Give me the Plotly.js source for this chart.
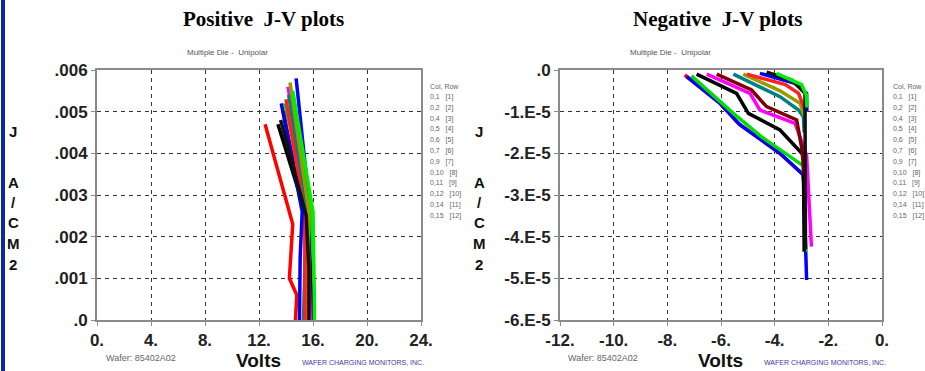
<!DOCTYPE html>
<html>
<head>
<meta charset="utf-8">
<script src="https://cdn.plot.ly/plotly-3.0.1.min.js"></script>
<style>html,body{margin:0;padding:0;background:#fff;}#c{width:925px;height:371px;}</style>
</head>
<body>
<div id="c"></div>
<script>
// ---- data ----
const seriesColors = ['#ff0000','#0000ff','#00dd00','#000000','#ff00ff','#008080','#800000','#999900','#ff2020','#0000ee','#111111','#00ee00'];
const legendLabels = ['0,1   [1]','0,2   [2]','0,4   [3]','0,5   [4]','0,6   [5]','0,7   [6]','0,9   [7]','0,10   [8]','0,11   [9]','0,12   [10]','0,14   [11]','0,15   [12]'];

// Positive J-V: volts and current density (A/cm2)
const posV = [
  [14.7, 14.8, 14.25, 14.5, 12.45],
  [16.0, 15.9, 15.75, 14.75],
  [15.5, 16.0, 15.9, 13.9],
  [15.85, 15.8, 15.6, 13.4],
  [15.8, 15.7, 15.6, 14.15],
  [15.3, 15.4, 15.5, 14.2],
  [15.6, 15.5, 15.4, 13.8],
  [15.6, 15.6, 15.7, 14.3],
  [15.4, 15.4, 15.4, 14.0],
  [15.0, 15.05, 15.2, 13.65],
  [15.7, 15.7, 15.5, 13.6],
  [16.1, 16.1, 16.0, 14.5]
];
const posJ = [
  [0.0, 0.0006, 0.001, 0.0023, 0.0047],
  [0.0, 0.0012, 0.0027, 0.0058],
  [0.0, 0.0013, 0.0025, 0.0052],
  [0.0, 0.0012, 0.0024, 0.0047],
  [0.0, 0.0012, 0.0027, 0.0056],
  [0.0, 0.0012, 0.0026, 0.0054],
  [0.0, 0.0012, 0.0024, 0.0050],
  [0.0, 0.0012, 0.0026, 0.0057],
  [0.0, 0.0012, 0.0025, 0.0053],
  [0.0, 0.0015, 0.0026, 0.0052],
  [0.0, 0.0012, 0.0025, 0.0048],
  [0.0, 0.0005, 0.0026, 0.0055]
];

// Negative J-V: volts and current density (A/cm2)
const negV = [
  [-7.35, -6.1, -5.35, -3.85, -2.95, -2.85],
  [-7.28, -6.04, -5.29, -3.8, -2.93, -2.81],
  [-7.1, -5.54, -4.5, -2.93, -2.85],
  [-6.91, -5.42, -4.98, -3.8, -2.93, -2.9],
  [-6.53, -4.92, -4.55, -3.24, -2.81, -2.63],
  [-5.54, -3.8, -3.11, -2.93, -2.9],
  [-6.16, -4.86, -4.3, -3.18, -2.99, -2.9],
  [-5.17, -3.8, -3.05, -2.9],
  [-5.04, -3.6, -3.11, -2.87],
  [-4.55, -3.24, -2.81, -2.8],
  [-4.3, -3.36, -2.87, -2.85],
  [-3.93, -3.0, -2.82, -2.8]
];
const negJ = [
  [-0.12e-5, -0.75e-5, -1.28e-5, -1.98e-5, -2.5e-5, -3.0e-5],
  [-0.16e-5, -0.8e-5, -1.32e-5, -2.0e-5, -2.52e-5, -5.04e-5],
  [-0.14e-5, -1.04e-5, -1.6e-5, -2.3e-5, -4.36e-5],
  [-0.1e-5, -0.56e-5, -1.04e-5, -1.44e-5, -2.04e-5, -4.36e-5],
  [-0.1e-5, -0.56e-5, -0.96e-5, -1.28e-5, -2.04e-5, -4.24e-5],
  [-0.1e-5, -0.64e-5, -0.96e-5, -1.12e-5, -1.5e-5],
  [-0.1e-5, -0.48e-5, -0.88e-5, -1.2e-5, -1.88e-5, -2.5e-5],
  [-0.1e-5, -0.5e-5, -0.8e-5, -1.1e-5],
  [-0.1e-5, -0.35e-5, -0.56e-5, -0.96e-5],
  [-0.08e-5, -0.32e-5, -0.56e-5, -1.0e-5],
  [-0.05e-5, -0.24e-5, -0.56e-5, -4.3e-5],
  [-0.08e-5, -0.35e-5, -0.6e-5, -0.9e-5]
];

const posXTicks = [0,4,8,12,16,20,24];
const posXText = ['0.','4.','8.','12.','16.','20.','24.'];
const posYTicks = [0,0.001,0.002,0.003,0.004,0.005,0.006];
const posYText = ['.0','.001','.002','.003','.004','.005','.006'];
const negXTicks = [-12,-10,-8,-6,-4,-2,0];
const negXText = ['-12.','-10.','-8.','-6.','-4.','-2.','0.'];
const negYTicks = [-6e-5,-5e-5,-4e-5,-3e-5,-2e-5,-1e-5,0];
const negYText = ['-6.E-5','-5.E-5','-4.E-5','-3.E-5','-2.E-5','-1.E-5','.0'];

// ---- figure ----
const W = 925, H = 371;
const px = x => x / W;
const py = y => 1 - y / H;

const traces = [];
for (let i = 0; i < posV.length; i++) {
  traces.push({x: posV[i], y: posJ[i], xaxis: 'x', yaxis: 'y', mode: 'lines',
    line: {color: seriesColors[i], width: 3.5}, hoverinfo: 'skip'});
}
for (let i = 0; i < negV.length; i++) {
  traces.push({x: negV[i], y: negJ[i], xaxis: 'x2', yaxis: 'y2', mode: 'lines',
    line: {color: seriesColors[i], width: 3.5}, hoverinfo: 'skip'});
}

const tickFont = {family: 'Liberation Sans, Arial, sans-serif', size: 17, color: '#222', weight: 'bold'};
function axisBase(extra) {
  return Object.assign({
    showgrid: true, griddash: '4px,4px', gridcolor: '#333', gridwidth: 1,
    showline: true, linecolor: '#8a8a8a', linewidth: 2, mirror: true,
    ticks: 'outside', ticklen: 4, tickcolor: '#8a8a8a', tickwidth: 1,
    zeroline: false, tickmode: 'array', tickfont: tickFont, fixedrange: true
  }, extra);
}

const annotations = [];
function txt(x, y, text, font, xanchor) {
  annotations.push({xref: 'paper', yref: 'paper', x: px(x), y: py(y), text: text,
    showarrow: false, xanchor: xanchor || 'center', yanchor: 'middle', font: font});
}
const titleFont = {family: 'Liberation Serif, Times New Roman, serif', size: 21, color: '#000', weight: 'bold'};
const subFont = {family: 'Liberation Sans, Arial, sans-serif', size: 8, color: '#555'};
const labFont = {family: 'Liberation Sans, Arial, sans-serif', size: 15, color: '#111', weight: 'bold'};
const voltsFont = {family: 'Liberation Sans, Arial, sans-serif', size: 19, color: '#111', weight: 'bold'};
const legFont = {family: 'Liberation Sans, Arial, sans-serif', size: 7, color: '#666'};
const wcmFont = {family: 'Liberation Sans, Arial, sans-serif', size: 7, color: '#3a3aaa'};
const waferFont = {family: 'Liberation Sans, Arial, sans-serif', size: 9, color: '#666'};

txt(263, 19, 'Positive  J-V plots', titleFont);
txt(717, 19, 'Negative  J-V plots', titleFont);
txt(227, 52, 'Multiple Die -  Unipolar', subFont);
txt(670, 52, 'Multiple Die -  Unipolar', subFont);

const jLetters = ['J','A','/','C','M','2'];
const jY = [131, 182, 202, 222, 243, 264];
for (const off of [13, 479]) {
  for (let k = 0; k < jLetters.length; k++) txt(off, jY[k], jLetters[k], labFont);
}
// legends
for (const lx of [428, 891]) {
  txt(lx, 86, 'Col, Row', legFont, 'left');
  for (let k = 0; k < legendLabels.length; k++) txt(lx, 97 + k * 10.8, legendLabels[k], legFont, 'left');
}
// footers
txt(141, 358, 'Wafer: 85402A02', waferFont);
txt(603, 358, 'Wafer: 85402A02', waferFont);
txt(258, 360, 'Volts', voltsFont);
txt(720, 360, 'Volts', voltsFont);
txt(300, 362, 'WAFER CHARGING MONITORS, INC.', wcmFont, 'left');
txt(762, 362, 'WAFER CHARGING MONITORS, INC.', wcmFont, 'left');

const layout = {
  width: W, height: H, margin: {l: 0, r: 0, t: 0, b: 0},
  paper_bgcolor: '#fff', plot_bgcolor: '#fff', showlegend: false,
  xaxis: axisBase({domain: [px(97), px(421)], range: [0, 24], tickvals: posXTicks, ticktext: posXText, anchor: 'y'}),
  yaxis: axisBase({domain: [py(320), py(70)], range: [0, 0.006], tickvals: posYTicks, ticktext: posYText, anchor: 'x'}),
  xaxis2: axisBase({domain: [px(560), px(882)], range: [-12, 0], tickvals: negXTicks, ticktext: negXText, anchor: 'y2'}),
  yaxis2: axisBase({domain: [py(320), py(70)], range: [-6e-5, 0], tickvals: negYTicks, ticktext: negYText, anchor: 'x2'}),
  annotations: annotations,
  shapes: [{type: 'rect', xref: 'paper', yref: 'paper', x0: px(1), x1: px(5), y0: 0, y1: 1,
    fillcolor: '#0a28a8', line: {width: 0}}]
};

Plotly.newPlot('c', traces, layout, {staticPlot: true, displayModeBar: false});
</script>
</body>
</html>
